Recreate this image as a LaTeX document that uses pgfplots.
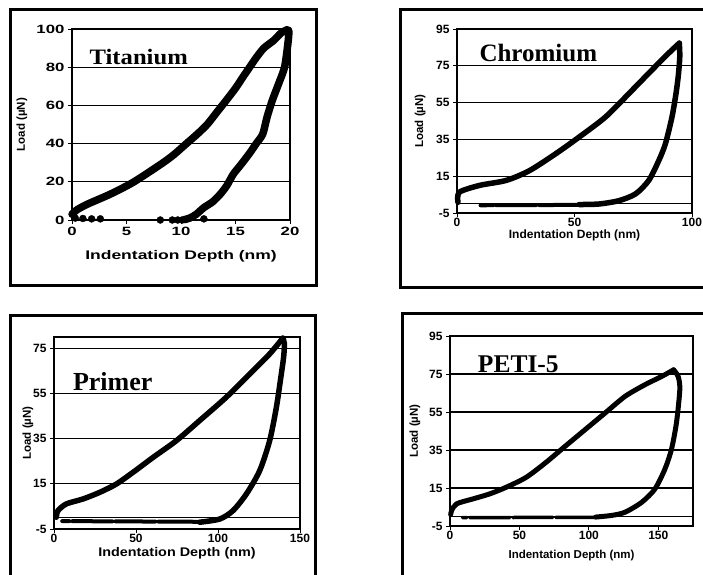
\documentclass[border=0pt]{standalone}
\usepackage{fontspec}
\setmainfont{Liberation Sans}
\newfontfamily\serifb{Liberation Serif}
\newfontfamily\widea[FakeStretch=1.4]{Liberation Sans}
\newfontfamily\wideb[FakeStretch=1.15]{Liberation Sans}
\newfontfamily\serifw[FakeStretch=1.12]{Liberation Serif}
\usepackage{pgfplots}
\pgfplotsset{compat=1.18}

\pgfplotsset{
  panel/.style={
    scale only axis, anchor=south west, clip=false,
    ymajorgrids, grid style={black, line width=1.2pt},
    axis line style={line width=1.2pt},
    tick style={black, line width=0.8pt},
    tick align=outside, major tick length=4pt,
    xtick pos=bottom, ytick pos=left,
    /pgf/number format/assume math mode=true,
    ylabel style={font=\fontsize{11.5}{11.5}\selectfont\bfseries},
  },
  curve/.style={black, line width=5.5pt, line join=round, line cap=round, smooth, tension=0.45},
  dotline/.style={black, line width=4pt, line cap=round, dash pattern=on 40pt off 3pt},
}

\begin{document}
\begin{tikzpicture}
\useasboundingbox (0,0) rectangle (703pt,574pt);
\clip (0,0) rectangle (703pt,574pt);

% outer frames
\draw[line width=3pt] (10pt,289pt) rectangle (316pt,564pt);
\draw[line width=3pt] (400pt,287pt) rectangle (720pt,564pt);
\draw[line width=3pt] (10pt,-16pt) rectangle (315pt,259pt);
\draw[line width=3pt] (402pt,-16pt) rectangle (720pt,261pt);

% Titanium
\begin{axis}[panel, at={(72pt,354pt)}, width=218pt, height=191pt,
  xmin=0, xmax=20, ymin=0, ymax=100,
  xtick={0,5,10,15,20}, ytick={0,20,40,60,80,100},
  ticklabel style={font=\fontsize{12}{12}\selectfont\widea\bfseries},
  xlabel={Indentation Depth (nm)}, ylabel={Load (µN)},
  xlabel style={font=\fontsize{12.5}{12.5}\selectfont\widea\bfseries, at={(axis description cs:0.5,-0.19)}, anchor=center},
  ylabel style={at={(axis description cs:-0.23,0.5)}, anchor=center},
]
\addplot[curve, line width=7.5pt] coordinates {
 (0,3) (0.5,5.5) (1.5,8.5) (3.5,13.5) (5.6,19.7) (8.1,29) (9.3,34) (10.5,40)
 (11.5,45) (12.4,50) (13.3,56.5) (14.2,63) (15,69) (15.7,75) (16.3,80) (16.9,85)
 (17.6,90) (18.5,94) (19.2,98) (19.7,99.5)};
\addplot[curve, line width=7.5pt] coordinates {
 (19.7,99.5) (19.9,99) (19.8,92) (19.5,80) (19,72) (18.4,63) (17.9,54) (17.5,45) (16.9,40)
 (16.3,35) (15.5,29) (14.8,24) (14.2,18) (13.6,13.5) (12.9,9.5) (12.1,6.5)
 (11.4,3) (10.8,1) (10.3,0.2)};
\addplot[only marks, mark=*, mark size=3.5pt, black] coordinates {
 (0.3,1) (1,0.8) (1.8,0.6) (2.6,0.6) (8.1,0) (9.2,0) (9.7,0) (10.1,0) (12.1,0.6)};
\node[anchor=base west, font=\fontsize{22}{22}\selectfont\serifw\bfseries, inner sep=0pt]
  at (axis cs:1.6,81.5) {Titanium};
\end{axis}

% Chromium
\begin{axis}[panel, at={(457pt,361pt)}, width=235pt, height=184pt,
  xmin=0, xmax=100, ymin=-5, ymax=95,
  xtick={0,50,100}, ytick={-5,15,35,55,75,95},
  extra y ticks={0}, extra y tick labels={}, extra y tick style={major tick length=0pt},
  ticklabel style={font=\fontsize{12}{12}\selectfont\bfseries},
  xticklabel style={yshift=2pt},
  xlabel={Indentation Depth (nm)}, ylabel={Load (µN)},
  xlabel style={font=\fontsize{12}{12}\selectfont\bfseries, at={(axis description cs:0.5,-0.12)}, anchor=center},
  ylabel style={at={(axis description cs:-0.157,0.5)}, anchor=center},
]
\addplot[curve] coordinates {
 (0.4,0.8) (1,6.3) (9.6,10) (20.9,12.7) (30.8,18) (42,27.2) (52,36.3)
 (63.3,47.3) (74.6,61.8) (83,72.8) (90.1,81.9) (94.6,87.3)};
\addplot[curve] coordinates {
 (94.6,87.3) (94.8,80) (94.2,70) (93.2,60) (91.5,47.3) (88.7,32.7) (85.9,23.6) (81.6,12.7)
 (76,5.4) (68.9,1.7) (60.5,-0.1) (52,-0.4)};
\addplot[dotline] coordinates {(52,-0.6) (10,-0.8)};
\node[anchor=base west, font=\fontsize{25}{25}\selectfont\serifb\bfseries, inner sep=0pt]
  at (axis cs:9.5,77.5) {Chromium};
\end{axis}

% Primer
\begin{axis}[panel, at={(54pt,45pt)}, width=246pt, height=192pt,
  xmin=0, xmax=150, ymin=-5, ymax=80,
  xtick={0,50,100,150}, ytick={-5,15,35,55,75},
  extra y ticks={0}, extra y tick labels={}, extra y tick style={major tick length=0pt},
  ticklabel style={font=\fontsize{12}{12}\selectfont\bfseries},
  xticklabel style={yshift=2pt},
  xlabel={Indentation Depth (nm)}, ylabel={Load (µN)},
  xlabel style={font=\fontsize{12.5}{12.5}\selectfont\wideb\bfseries, at={(axis description cs:0.5,-0.125)}, anchor=center},
  ylabel style={at={(axis description cs:-0.106,0.5)}, anchor=center},
]
\addplot[curve] coordinates {
 (1.4,0.2) (2.4,3.1) (7.5,6.1) (17.7,8.3) (27.8,11.2) (38,14.9) (48.2,20.1)
 (60.4,26.7) (74.6,34.1) (88.8,43) (105,53.3) (119.3,63.6) (131.5,72.5) (139.5,79.5)};
\addplot[curve] coordinates {
 (139.5,79.5) (140.5,77) (140,71) (138.6,63.6) (135.6,48.9) (131.5,34.1) (125.4,20.8)
 (117.3,10.5) (109.1,3.1) (101,-0.6) (88.8,-2)};
\addplot[dotline] coordinates {(88,-1.8) (5,-1.5)};
\node[anchor=base west, font=\fontsize{26}{26}\selectfont\serifb\bfseries, inner sep=0pt]
  at (axis cs:11.5,56.5) {Primer};
\end{axis}

% PETI-5
\begin{axis}[panel, at={(450pt,48pt)}, width=243pt, height=190pt,
  xmin=0, xmax=175, ymin=-5, ymax=95,
  xtick={0,50,100,150}, ytick={-5,15,35,55,75,95},
  extra y ticks={0}, extra y tick labels={}, extra y tick style={major tick length=0pt},
  ticklabel style={font=\fontsize{12}{12}\selectfont\bfseries},
  xticklabel style={yshift=2pt},
  xlabel={Indentation Depth (nm)}, ylabel={Load (µN)},
  xlabel style={font=\fontsize{11.5}{11.5}\selectfont\bfseries, at={(axis description cs:0.5,-0.153)}, anchor=center},
  ylabel style={at={(axis description cs:-0.144,0.5)}, anchor=center},
]
\addplot[curve, line width=5pt] coordinates {
 (0.5,1) (1.2,3.2) (4.8,6.7) (16.7,9.3) (28.6,11.9) (40.5,15.4) (54.8,20.6)
 (69,28.4) (83.3,37.2) (97.6,45.9) (111.9,54.6) (126.2,63.3) (140.5,69.4)
 (152.4,73.7) (161,77.2)};
\addplot[curve, line width=5pt] coordinates {
 (161,77.2) (164.3,73.7) (165.5,66.8) (163.1,49.4) (159.5,35.4) (154.8,25) (147.6,14.5)
 (138.1,7.5) (126.2,2.3) (116.7,0.6) (104.8,-0.3)};
\addplot[dotline, line width=3.5pt] coordinates {(105,-0.4) (9,-0.6)};
\node[anchor=base west, font=\fontsize{25.5}{25.5}\selectfont\serifb\bfseries, inner sep=0pt]
  at (axis cs:20,76) {PETI-5};
\end{axis}
\end{tikzpicture}
\end{document}
